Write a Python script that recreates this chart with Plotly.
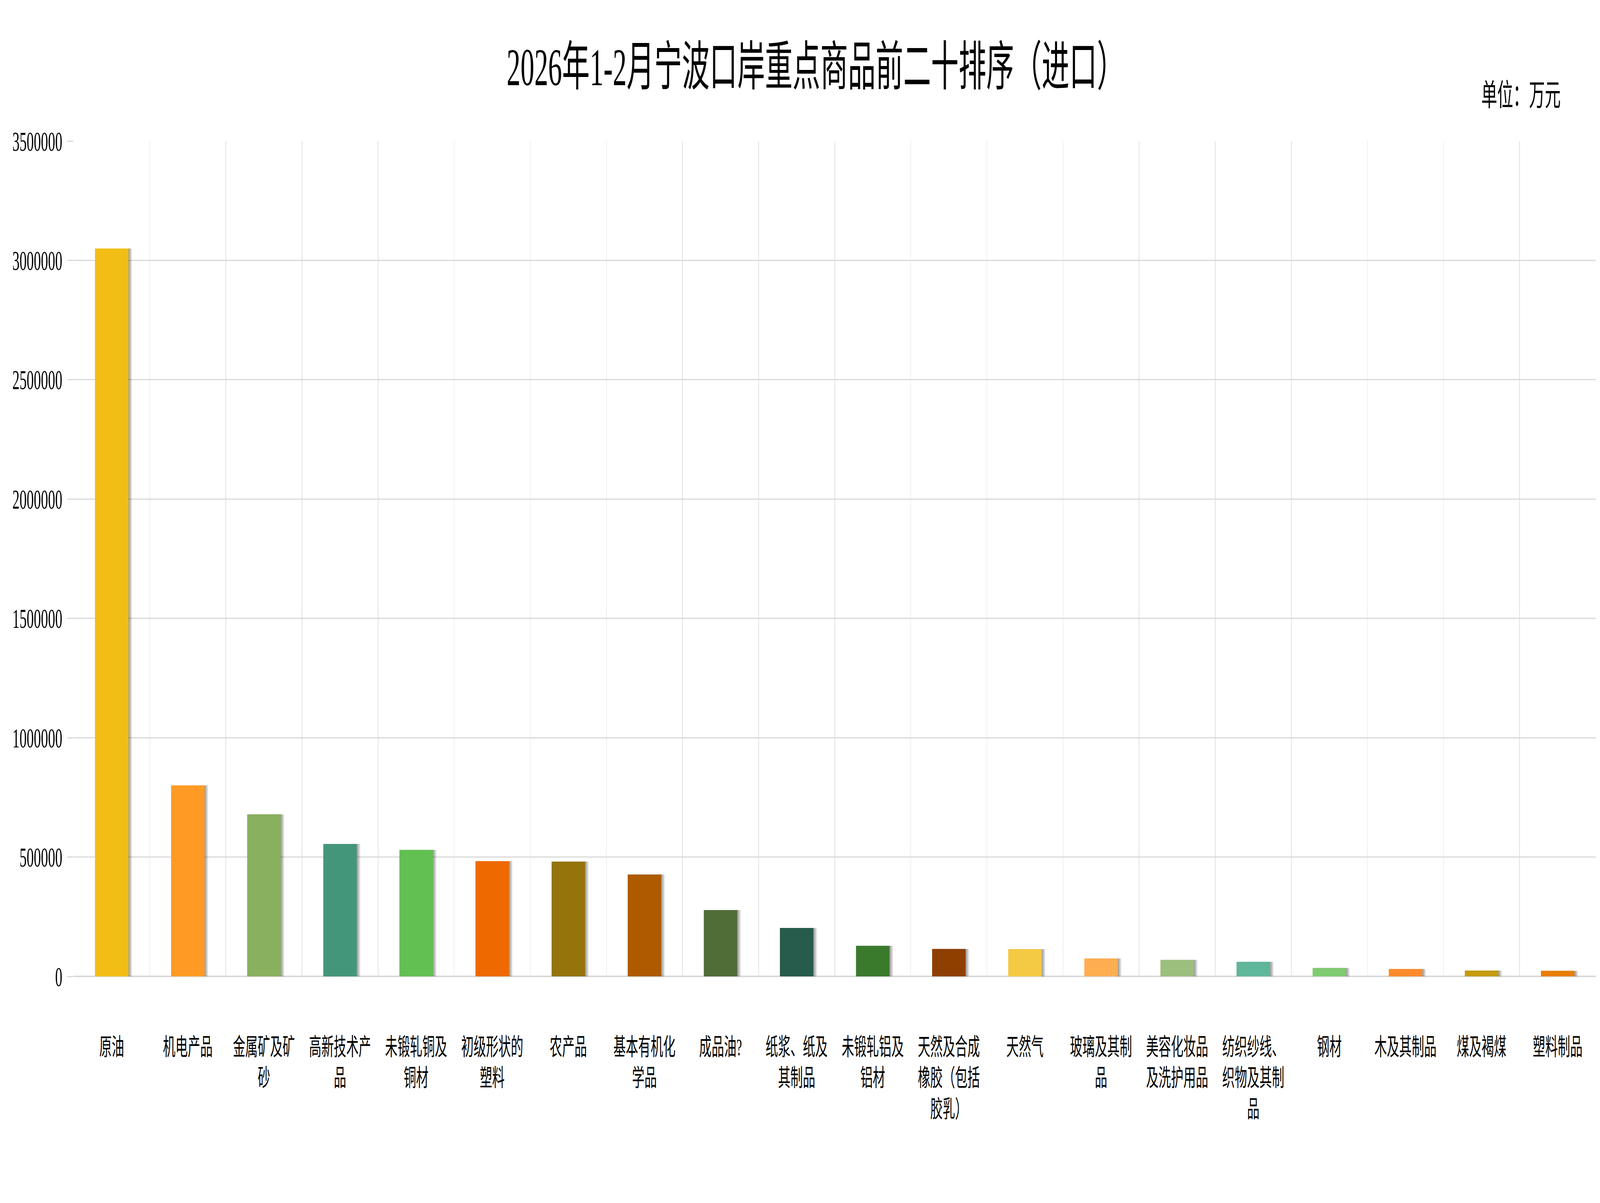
import plotly.graph_objs as go

categories = ['原油', '机电产品', '金属矿及矿砂', '高新技术产品', '未锻轧铜及铜材',
              '初级形状的塑料', '农产品', '基本有机化学品', '成品油?', '纸浆、纸及其制品',
              '未锻轧铝及铝材', '天然及合成橡胶（包括胶乳）', '天然气', '玻璃及其制品',
              '美容化妆品及洗护用品', '纺织纱线、织物及其制品', '钢材', '木及其制品',
              '煤及褐煤', '塑料制品']
values = [3050000, 800000, 679000, 555000, 530000,
          483000, 481000, 427000, 278000, 203000,
          128000, 115000, 114000, 75000, 69000,
          61000, 35000, 31000, 24500, 23500]
colors = ['#F2BE16', '#FF9B25', '#88B05E', '#44967A', '#62C052',
          '#EE6A00', '#94740B', '#AE5B00', '#506D37', '#275B4C',
          '#3A7A2D', '#8F3F00', '#F4C943', '#FFAD51', '#9DBF7D',
          '#5FB69A', '#7FCB70', '#FF8A2A', '#C49B10', '#E87D00']
y_ticks = [0, 500000, 1000000, 1500000, 2000000, 2500000, 3000000, 3500000]

title = '2026年1-2月宁波口岸重点商品前二十排序（进口）'
unit = '单位：万元'

FONT = 'Liberation Serif, Noto Sans CJK SC'
BAR_W = 0.44
W, H = 7863, 3079


def wrap(name, n=5):
    return '<br>'.join(name[i:i + n] for i in range(0, len(name), n))


labels = [wrap(c) for c in categories]

traces = []
# soft drop shadow to the right of each bar
for k in range(1, 7):
    traces.append(go.Bar(x=labels, y=values, width=BAR_W,
                         offset=-BAR_W / 2 + k * 0.008,
                         marker=dict(color='rgba(0,0,0,0.075)', line_width=0),
                         hoverinfo='skip', showlegend=False))

traces.append(go.Bar(x=labels, y=values, width=BAR_W, offset=-BAR_W / 2,
                     marker=dict(color=colors, line_width=0),
                     showlegend=False))

layout = go.Layout(width=W, height=H,
                   paper_bgcolor='white', plot_bgcolor='white',
                   barmode='overlay',
                   margin=dict(l=362, r=21, t=361, b=580),
                   font=dict(family=FONT, color='#000000', size=61),
                   title=dict(text=title, x=0.5098, xref='container', xanchor='center',
                              y=0.9448, yref='container', yanchor='middle',
                              font=dict(family=FONT, size=136, color='#000000')),
                   xaxis=go.layout.XAxis(
                       type='category',
                       tickson='boundaries',
                       showgrid=True, gridcolor='#e2e2e2', gridwidth=3,
                       showline=False, zeroline=False,
                       ticks='', tickangle=0, ticklabelstandoff=140,
                       tickfont=dict(size=61)
                   ),
                   yaxis=go.layout.YAxis(
                       range=[0, 3500000],
                       tickvals=y_ticks, ticktext=[str(v) for v in y_ticks],
                       showgrid=True, gridcolor='#d9d9d9', gridwidth=3,
                       zeroline=True, zerolinecolor='#d9d9d9', zerolinewidth=4,
                       ticks='outside', ticklen=30, tickcolor='#d9d9d9', tickwidth=3,
                       ticklabelstandoff=11,
                       tickfont=dict(size=70)
                   ),
                   annotations=[dict(text=unit, xref='paper', yref='paper',
                                     x=0.9773, y=1.0543, xanchor='right', yanchor='middle',
                                     showarrow=False,
                                     font=dict(family=FONT, size=78, color='#000000'))],
                   hovermode=False)

fig = go.Figure(data=traces, layout=layout)

# the figure is laid out for a 7863x3079 page; fit it to the real window if it differs
fit_js = """
var gd = document.getElementById('{plot_id}');
document.documentElement.style.overflow = 'hidden';
document.body.style.margin = '0';
document.body.style.overflow = 'hidden';
var sx = window.innerWidth / %d, sy = window.innerHeight / %d;
gd.style.transformOrigin = '0 0';
gd.style.transform = 'scale(' + sx + ',' + sy + ')';
""" % (W, H)

fig.write_html('out.html', post_script=fit_js, config={'displayModeBar': False})
